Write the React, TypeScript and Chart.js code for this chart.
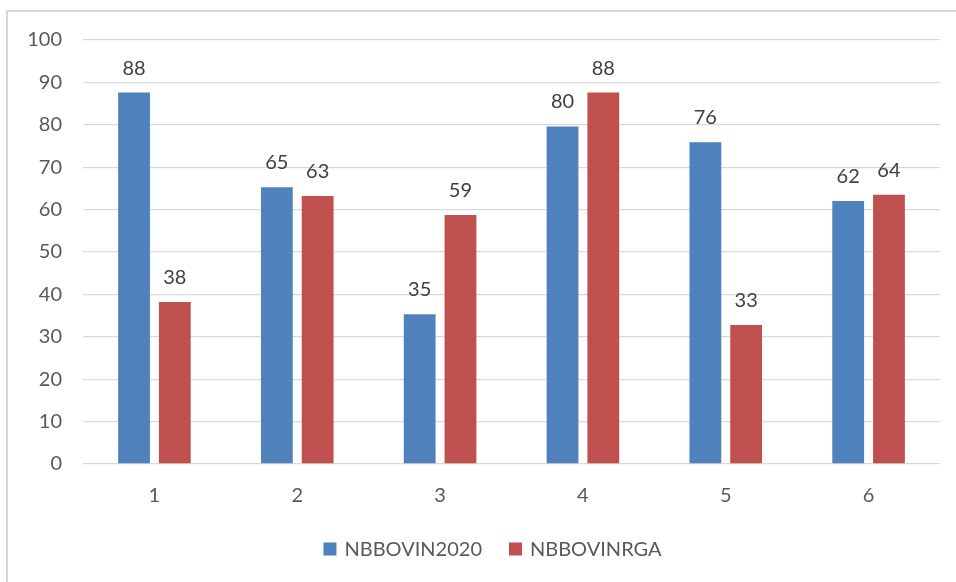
import React, { useEffect, useRef } from "react";
import { Chart, registerables } from "chart.js";

Chart.register(...registerables);

const categories = ["1", "2", "3", "4", "5", "6"];
const nbbovin2020 = [87.6, 65.3, 35.3, 79.6, 75.9, 62.0];
const nbbovinrga = [38.2, 63.2, 58.7, 87.6, 32.8, 63.5];
const seriesNames = ["NBBOVIN2020", "NBBOVINRGA"];
const seriesColors = ["#4F81BD", "#C0504D"];
const yMin = 0;
const yMax = 100;
const yStep = 10;

const FONT = "Lato, 'Open Sans', sans-serif";

export default function App() {
  const ref = useRef<HTMLCanvasElement>(null);

  useEffect(() => {
    const borderPlugin = {
      id: "outerBorder",
      beforeDraw(chart: any) {
        const ctx = chart.ctx;
        ctx.save();
        ctx.fillStyle = "#ffffff";
        ctx.fillRect(0, 0, chart.width, chart.height);
        ctx.strokeStyle = "#d9d9d9";
        ctx.lineWidth = 2;
        ctx.strokeRect(7, 11, 1000, 1000);
        ctx.restore();
      },
    };

    const dataLabelPlugin = {
      id: "dataLabels",
      afterDatasetsDraw(chart: any) {
        const ctx = chart.ctx;
        ctx.save();
        ctx.font = `20px ${FONT}`;
        ctx.fillStyle = "#404040";
        ctx.textAlign = "center";
        ctx.textBaseline = "alphabetic";
        chart.data.datasets.forEach((ds: any, i: number) => {
          const meta = chart.getDatasetMeta(i);
          meta.data.forEach((el: any, j: number) => {
            ctx.fillText(String(Math.round(ds.data[j])), el.x, el.y - 18);
          });
        });
        ctx.restore();
      },
    };

    const legendPlugin = {
      id: "customLegend",
      afterDraw(chart: any) {
        const ctx = chart.ctx;
        ctx.save();
        ctx.font = `20px ${FONT}`;
        const box = 13;
        const gapText = 8;
        const gapItem = 27;
        const items = chart.data.datasets.map((ds: any) => ({
          label: ds.label,
          color: ds.backgroundColor,
          w: ctx.measureText(ds.label).width,
        }));
        let total = 0;
        items.forEach((it: any, i: number) => {
          total += box + gapText + it.w + (i < items.length - 1 ? gapItem : 0);
        });
        let x = 492.5 - total / 2;
        const cy = 549;
        ctx.textBaseline = "middle";
        ctx.textAlign = "left";
        items.forEach((it: any) => {
          ctx.fillStyle = it.color;
          ctx.fillRect(x, cy - box / 2, box, box);
          x += box + gapText;
          ctx.fillStyle = "#595959";
          ctx.fillText(it.label, x, cy + 1);
          x += it.w + gapItem;
        });
        ctx.restore();
      },
    };

    const chart = new Chart(ref.current!, {
      type: "bar",
      data: {
        labels: categories,
        datasets: [
          {
            label: seriesNames[0],
            data: nbbovin2020,
            backgroundColor: seriesColors[0],
            categoryPercentage: 0.571,
            barPercentage: 0.78,
          },
          {
            label: seriesNames[1],
            data: nbbovinrga,
            backgroundColor: seriesColors[1],
            categoryPercentage: 0.571,
            barPercentage: 0.78,
          },
        ],
      },
      options: {
        responsive: false,
        animation: false,
        layout: { padding: { left: 0, top: 40, right: 16, bottom: 58 } },
        plugins: {
          legend: { display: false },
          tooltip: { enabled: false },
        },
        scales: {
          x: {
            grid: { display: false },
            border: { display: false },
            ticks: {
              color: "#595959",
              font: { family: FONT, size: 20 },
              padding: 12,
            },
            afterFit: (s: any) => {
              s.height = 60;
            },
          },
          y: {
            min: yMin,
            max: yMax,
            grid: { color: "#d9d9d9", lineWidth: 1.3, drawTicks: false },
            border: { display: false },
            ticks: {
              stepSize: yStep,
              color: "#595959",
              font: { family: FONT, size: 20 },
              padding: 21,
            },
            afterFit: (s: any) => {
              s.width = 83;
            },
          },
        },
      },
      plugins: [borderPlugin, dataLabelPlugin, legendPlugin],
    } as any);
    return () => chart.destroy();
  }, []);

  return (
    <div
      style={{
        position: "fixed",
        left: 0,
        top: 0,
        width: 956,
        height: 582,
        background: "#fff",
      }}
    >
      <canvas
        ref={ref}
        width={956}
        height={582}
        style={{ width: 956, height: 582, display: "block" }}
      />
    </div>
  );
}
